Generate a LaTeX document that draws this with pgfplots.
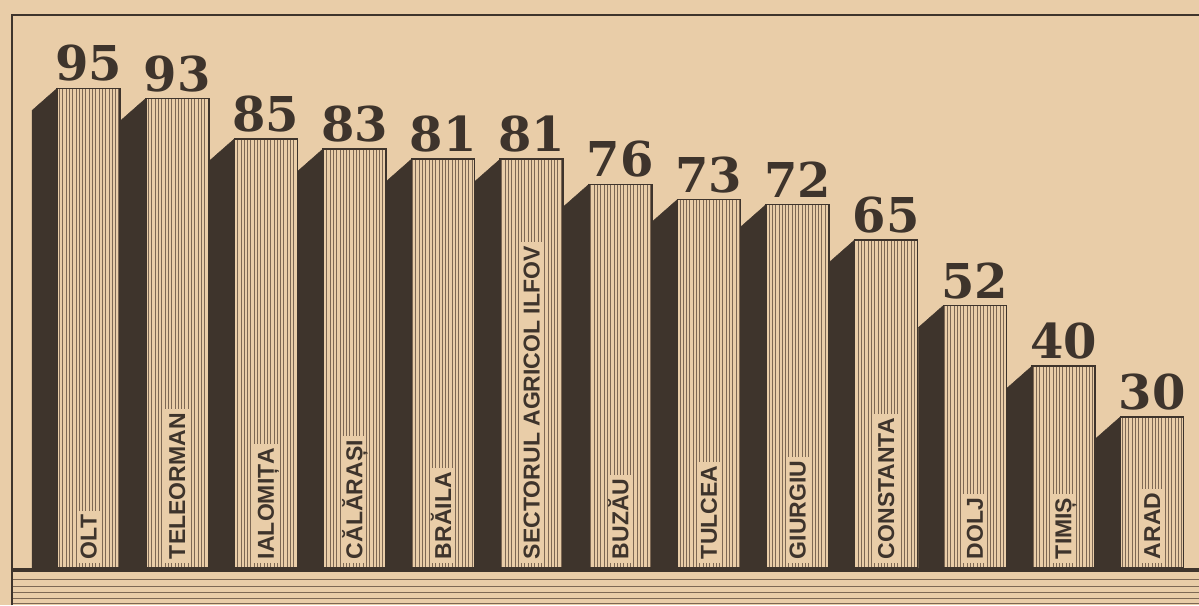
\documentclass[border=0pt]{standalone}
\usepackage{pgfplots}
\pgfplotsset{compat=1.18}
\usepackage{pgfplotstable}
\usetikzlibrary{patterns.meta}
\usepackage{fontspec}
\setmainfont{Liberation Sans}
\newfontfamily\numfont{DejaVu Serif}
\definecolor{paper}{RGB}{233,205,168}
\definecolor{ink}{RGB}{62,52,44}
\definecolor{hatch}{RGB}{125,104,84}

\pgfplotstableread[col sep=comma]{
x,v,label
0,95,OLT
1,93,TELEORMAN
2,85,IALOMIȚA
3,83,CĂLĂRAȘI
4,81,BRĂILA
5,81,SECTORUL AGRICOL ILFOV
6,76,BUZĂU
7,73,TULCEA
8,72,GIURGIU
9,65,CONSTANTA
10,52,DOLJ
11,40,TIMIȘ
12,30,ARAD
}\data

\begin{document}
\begin{tikzpicture}
\begin{axis}[
  x=88.6pt, y=5.05pt,
  xmin=-1, xmax=12.53, ymin=-7.33, ymax=112.5,
  axis line style={draw=none}, ticks=none,
  axis background/.style={fill=paper},
]
% bottom stripes
\draw[hatch, line width=0.9pt] (axis cs:-0.8646,-2.18) -- (axis cs:12.53,-2.18);
\draw[hatch, line width=0.9pt] (axis cs:-0.8646,-3.56) -- (axis cs:12.53,-3.56);
\draw[hatch, line width=0.9pt] (axis cs:-0.8646,-4.75) -- (axis cs:12.53,-4.75);
\draw[hatch, line width=0.9pt] (axis cs:-0.8646,-5.94) -- (axis cs:12.53,-5.94);
\draw[hatch, line width=0.9pt] (axis cs:-0.8646,-6.93) -- (axis cs:12.53,-6.93);
% side faces
\addplot[scatter, only marks, mark=*, mark size=0pt, mark options={draw=none,fill=none},
  point meta=y,
  visualization depends on={\thisrow{v} \as \ry},
  scatter/@pre marker code/.code={%
    \pgfmathsetmacro\h{\ry*5.05}%
    \fill[ink] (-31.5pt,0pt) -- (-56.5pt,-22pt) -- (-56.5pt,-\h pt) -- (-31.5pt,-\h pt) -- cycle;},
  scatter/@post marker code/.code={}]
  table[x=x,y=v]{\data};
% front faces
\addplot[ybar, bar width=63pt, bar shift=0pt,
  preaction={fill=paper},
  pattern={Lines[angle=90,distance=3.3pt,line width=0.8pt]}, pattern color=hatch,
  draw=ink, line width=1.6pt,
  nodes near coords={\pgfmathprintnumber[assume math mode=true]{\pgfplotspointmeta}},
  every node near coord/.append style={font=\numfont\bfseries\fontsize{48}{48}\selectfont,
     text=ink, anchor=south, inner sep=0pt, yshift=6pt}]
  table[x=x,y=v]{\data};
% labels
\addplot[only marks, mark=*, mark size=0pt, mark options={draw=none,fill=none},
  point meta=explicit symbolic,
  nodes near coords,
  every node near coord/.append style={font=\bfseries\fontsize{23}{23}\selectfont,
     text=ink, fill=paper, inner xsep=4pt, inner ysep=3pt, text height=17pt, text depth=1pt,
     yshift=5pt, rotate=90, anchor=west}]
  table[x=x, y expr=0, meta=label]{\data};
% frame and baseline
\draw[ink, line width=1.5pt] (axis cs:-0.8646,-7.33) -- (axis cs:-0.8646,109.5) -- (axis cs:12.53,109.5);
\draw[ink, line width=4pt] (axis cs:-0.8646,-0.4) -- (axis cs:12.53,-0.4);
\end{axis}
\end{tikzpicture}
\end{document}
